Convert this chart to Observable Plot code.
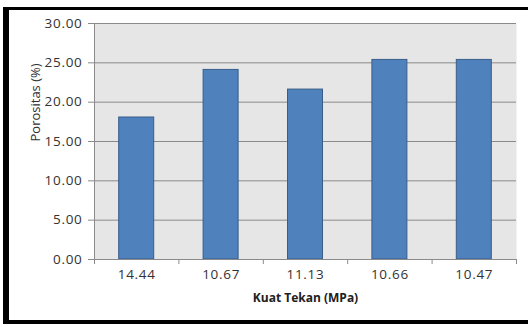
<!DOCTYPE html>
<html>
<head>
<meta charset="utf-8">
<script src="https://cdn.jsdelivr.net/npm/d3@7"></script>
<script src="https://cdn.jsdelivr.net/npm/@observablehq/plot@0.6"></script>
<style>
  html, body { margin: 0; padding: 0; background: #fff; overflow: hidden; }
  #wrap { position: relative; width: 528px; height: 327px; overflow: hidden; }
  #border { position: absolute; left: 3px; top: 7px; width: 540px; height: 317px; border-left: 6px solid #000; border-top: 3px solid #000; border-bottom: 4px solid #000; border-right: none; box-sizing: border-box; pointer-events: none; }
  #wrap svg { position: absolute; left: 0; top: 0; }
  #wrap svg text { font-family: 'Open Sans', sans-serif !important; font-size: 13px !important; }
  #wrap svg g[aria-label="y-axis tick label"] text, #wrap svg g[aria-label="x-axis tick label"] text { font-size: 13.5px !important; letter-spacing: 0.7px; }
  #wrap svg .xlab text { font-size: 12px !important; font-weight: bold; }
</style>
</head>
<body>
<div id="wrap"><div id="border"></div></div>
<script>
const categories = ["14.44", "10.67", "11.13", "10.66", "10.47"];
const porositas = [18.05, 24.1, 21.6, 25.37, 25.37];
const yTicks = [0, 5, 10, 15, 20, 25, 30];
const yLabel = "Porositas (%)";
const xLabel = "Kuat Tekan (MPa)";

const data = categories.map((c, i) => ({ i, c, v: porositas[i] }));
const n = categories.length;

const chart = Plot.plot({
  width: 528,
  height: 327,
  marginLeft: 94,
  marginRight: 12,
  marginTop: 23,
  marginBottom: 68,
  style: { fontFamily: "'Open Sans', sans-serif", fontSize: "13px", color: "#404040", background: "transparent" },
  x: { type: "linear", domain: [0, n] },
  y: { domain: [0, 30] },
  marks: [
    Plot.frame({ fill: "#e6e6e6", stroke: null }),
    Plot.gridY(yTicks, { stroke: "#8a8a8a", strokeOpacity: 1, strokeWidth: 1 }),
    Plot.rectY(data, { x: "i", interval: 1, y: "v", insetLeft: 24.7, insetRight: 24.7, fill: "#4f81bd", stroke: "#385d8a", strokeWidth: 1 }),
    Plot.ruleX([0], { stroke: "#8a8a8a" }),
    Plot.ruleY([0], { stroke: "#8a8a8a" }),
    Plot.axisY({ ticks: yTicks, tickSize: 6, tickPadding: 6, tickFormat: d => d.toFixed(2), label: null, stroke: "#8a8a8a", fill: "#333333" }),
    Plot.axisX({ ticks: d3.range(n + 1), tickSize: 5, tickFormat: () => "", label: null, stroke: "#8a8a8a" }),
    Plot.axisX({ ticks: data.map(d => d.i + 0.5), tickSize: 0, tickPadding: 10, tickFormat: d => categories[Math.floor(d)], label: null, fill: "#333333" }),
    Plot.text([yLabel], { frameAnchor: "left", rotate: -90, dx: -59, fill: "#303030" }),
    Plot.text([xLabel], { frameAnchor: "bottom", dy: 42, fill: "#202020", fontWeight: "bold", className: "xlab" })
  ]
});
document.getElementById("wrap").prepend(chart);
</script>
</body>
</html>
